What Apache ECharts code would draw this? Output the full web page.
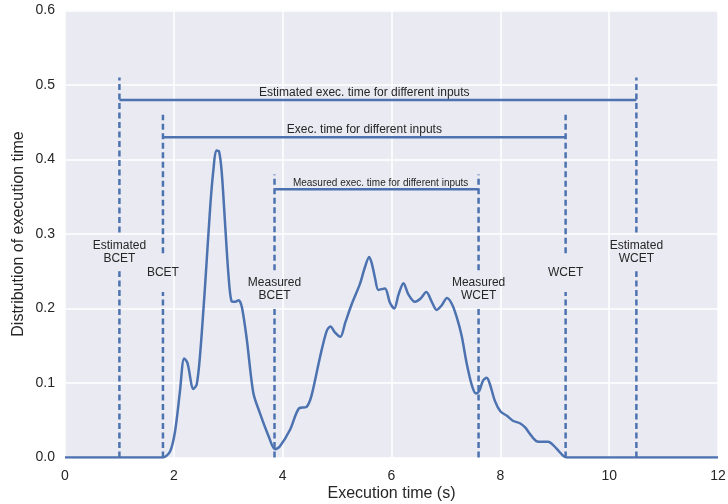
<!DOCTYPE html>
<html>
<head>
<meta charset="utf-8">
<script src="https://cdn.jsdelivr.net/npm/echarts@6/dist/echarts.min.js"></script>
<style>
html,body{margin:0;padding:0;background:#fff;}
#chart{width:728px;height:504px;}
</style>
</head>
<body>
<div id="chart"></div>
<script>
// ---- data ----
const curveX = [0, 1.6, 1.8, 1.93, 2.02, 2.11, 2.19, 2.25, 2.36, 2.42, 2.48, 2.57, 2.67, 2.73, 2.78, 2.83, 2.88, 2.94, 3.00, 3.06, 3.13, 3.19, 3.25, 3.34, 3.46, 3.58, 3.74, 3.86, 3.95, 4.14, 4.30, 4.44, 4.53, 4.69, 4.81, 4.88, 4.96, 5.06, 5.15, 5.27, 5.42, 5.51, 5.59, 5.64, 5.70, 5.76, 5.88, 5.97, 6.05, 6.13, 6.22, 6.31, 6.43, 6.53, 6.64, 6.74, 6.83, 6.92, 7.02, 7.11, 7.20, 7.29, 7.38, 7.48, 7.55, 7.61, 7.68, 7.75, 7.81, 7.90, 8.00, 8.12, 8.24, 8.36, 8.46, 8.55, 8.66, 8.76, 8.88, 8.98, 9.07, 9.16, 9.22, 9.5, 12];
const curveY = [0, 0, 0, 0.008, 0.034, 0.087, 0.133, 0.127, 0.092, 0.098, 0.136, 0.226, 0.338, 0.388, 0.412, 0.411, 0.383, 0.316, 0.249, 0.210, 0.209, 0.211, 0.202, 0.159, 0.087, 0.060, 0.029, 0.011, 0.015, 0.038, 0.066, 0.068, 0.083, 0.136, 0.170, 0.176, 0.168, 0.162, 0.181, 0.206, 0.233, 0.255, 0.269, 0.260, 0.240, 0.225, 0.227, 0.208, 0.200, 0.219, 0.234, 0.219, 0.209, 0.213, 0.222, 0.209, 0.198, 0.204, 0.214, 0.206, 0.188, 0.163, 0.127, 0.096, 0.086, 0.089, 0.103, 0.107, 0.098, 0.076, 0.062, 0.056, 0.049, 0.046, 0.040, 0.031, 0.022, 0.021, 0.021, 0.016, 0.009, 0.002, 0, 0, 0];

const boundX = [1, 1.8, 3.85, 7.6, 9.2, 10.5];
const boundTop = [0.51, 0.46, 0.38, 0.38, 0.46, 0.51];
const boundLabels = ['Estimated\nBCET', 'BCET', 'Measured\nBCET', 'Measured\nWCET', 'WCET', 'Estimated\nWCET'];
const boundLabelY = [0.276, 0.248, 0.2255, 0.2255, 0.248, 0.276];

const rangeStart = [1, 1.8, 3.85];
const rangeEnd = [10.5, 9.2, 7.6];
const rangeY = [0.48, 0.43, 0.36];
const rangeLabels = ['Estimated exec. time for different inputs', 'Exec. time for different inputs', 'Measured exec. time for different inputs'];
const rangeLabelX = [5.5, 5.5, 5.8];

const xTicks = [0, 2, 4, 6, 8, 10, 12];
const yTicks = [0.0, 0.1, 0.2, 0.3, 0.4, 0.5, 0.6];

// ---- styling ----
const BLUE = '#4C72B0';
const TXT = '#262626';
const BG = '#EAEAF2';
const FONT = '"Liberation Sans", Arial, sans-serif';
const rangeLabelFont = [12, 12, 10];
const LABEL_GAP = 0.026; // half-height of the gap left in dashed lines around labels (data units)

const series = [];

boundX.forEach((x, i) => {
  const lo = boundLabelY[i] - LABEL_GAP;
  const hi = boundLabelY[i] + LABEL_GAP;
  [[[x, 0], [x, lo]], [[x, hi], [x, boundTop[i]]]].forEach(seg => {
    series.push({
      type: 'line', z: 2, symbol: 'none', silent: true,
      data: seg,
      lineStyle: { color: BLUE, width: 2.5, type: [6, 3.5] }
    });
  });
});

rangeStart.forEach((s, i) => {
  series.push({
    type: 'line', z: 3, symbol: 'none', silent: true,
    data: [[s, rangeY[i]], [rangeEnd[i], rangeY[i]]],
    lineStyle: { color: BLUE, width: 2.5, type: 'solid' }
  });
});

series.push({
  type: 'line', z: 6, symbol: 'none', smooth: 0.3, clip: true, silent: true,
  data: curveX.map((x, i) => [x, curveY[i]]),
  lineStyle: { color: BLUE, width: 2.5 }
});

series.push({
  type: 'scatter', z: 4, symbolSize: 0, silent: true,
  itemStyle: { opacity: 1 },
  data: boundX.map((x, i) => ({
    value: [x, boundLabelY[i]],
    label: { formatter: boundLabels[i] }
  })),
  label: {
    show: true, position: 'inside', color: TXT, fontSize: 12, lineHeight: 13,
    fontFamily: FONT, align: 'center', verticalAlign: 'middle',
    textBorderWidth: 0, opacity: 1
  }
});

series.push({
  type: 'scatter', z: 7, symbolSize: 0, silent: true,
  itemStyle: { opacity: 1 },
  data: rangeLabelX.map((x, i) => ({
    value: [x, rangeY[i]],
    label: { formatter: rangeLabels[i], fontSize: rangeLabelFont[i] }
  })),
  label: {
    show: true, position: 'top', distance: 1.5, color: TXT, fontFamily: FONT,
    textBorderWidth: 0, opacity: 1
  }
});

const chart = echarts.init(document.getElementById('chart'), null, { renderer: 'canvas' });
chart.setOption({
  animation: false,
  backgroundColor: '#ffffff',
  textStyle: { fontFamily: FONT },
  grid: { left: 65, right: 10, top: 10.5, bottom: 46.5, show: true, backgroundColor: BG, borderWidth: 0, outerBoundsMode: 'none', containLabel: false },
  xAxis: {
    type: 'value', min: xTicks[0], max: xTicks[xTicks.length - 1], interval: 2,
    name: 'Execution time (s)', nameLocation: 'middle', nameGap: 28, nameMoveOverlap: false,
    nameTextStyle: { color: TXT, fontSize: 16, fontFamily: FONT },
    axisLine: { show: false }, axisTick: { show: false },
    axisLabel: { color: TXT, fontSize: 14, margin: 12, fontFamily: FONT },
    splitLine: { show: true, lineStyle: { color: '#ffffff', width: 1.5 } }
  },
  yAxis: {
    type: 'value', min: yTicks[0], max: yTicks[yTicks.length - 1], interval: 0.1,
    name: 'Distribution of execution time', nameLocation: 'middle', nameGap: 38, nameMoveOverlap: false,
    nameTextStyle: { color: TXT, fontSize: 16, fontFamily: FONT },
    axisLine: { show: false }, axisTick: { show: false },
    axisLabel: { color: TXT, fontSize: 14, margin: 10, fontFamily: FONT, formatter: v => v.toFixed(1) },
    splitLine: { show: true, lineStyle: { color: '#ffffff', width: 1.5 } }
  },
  series: series
});
</script>
</body>
</html>
